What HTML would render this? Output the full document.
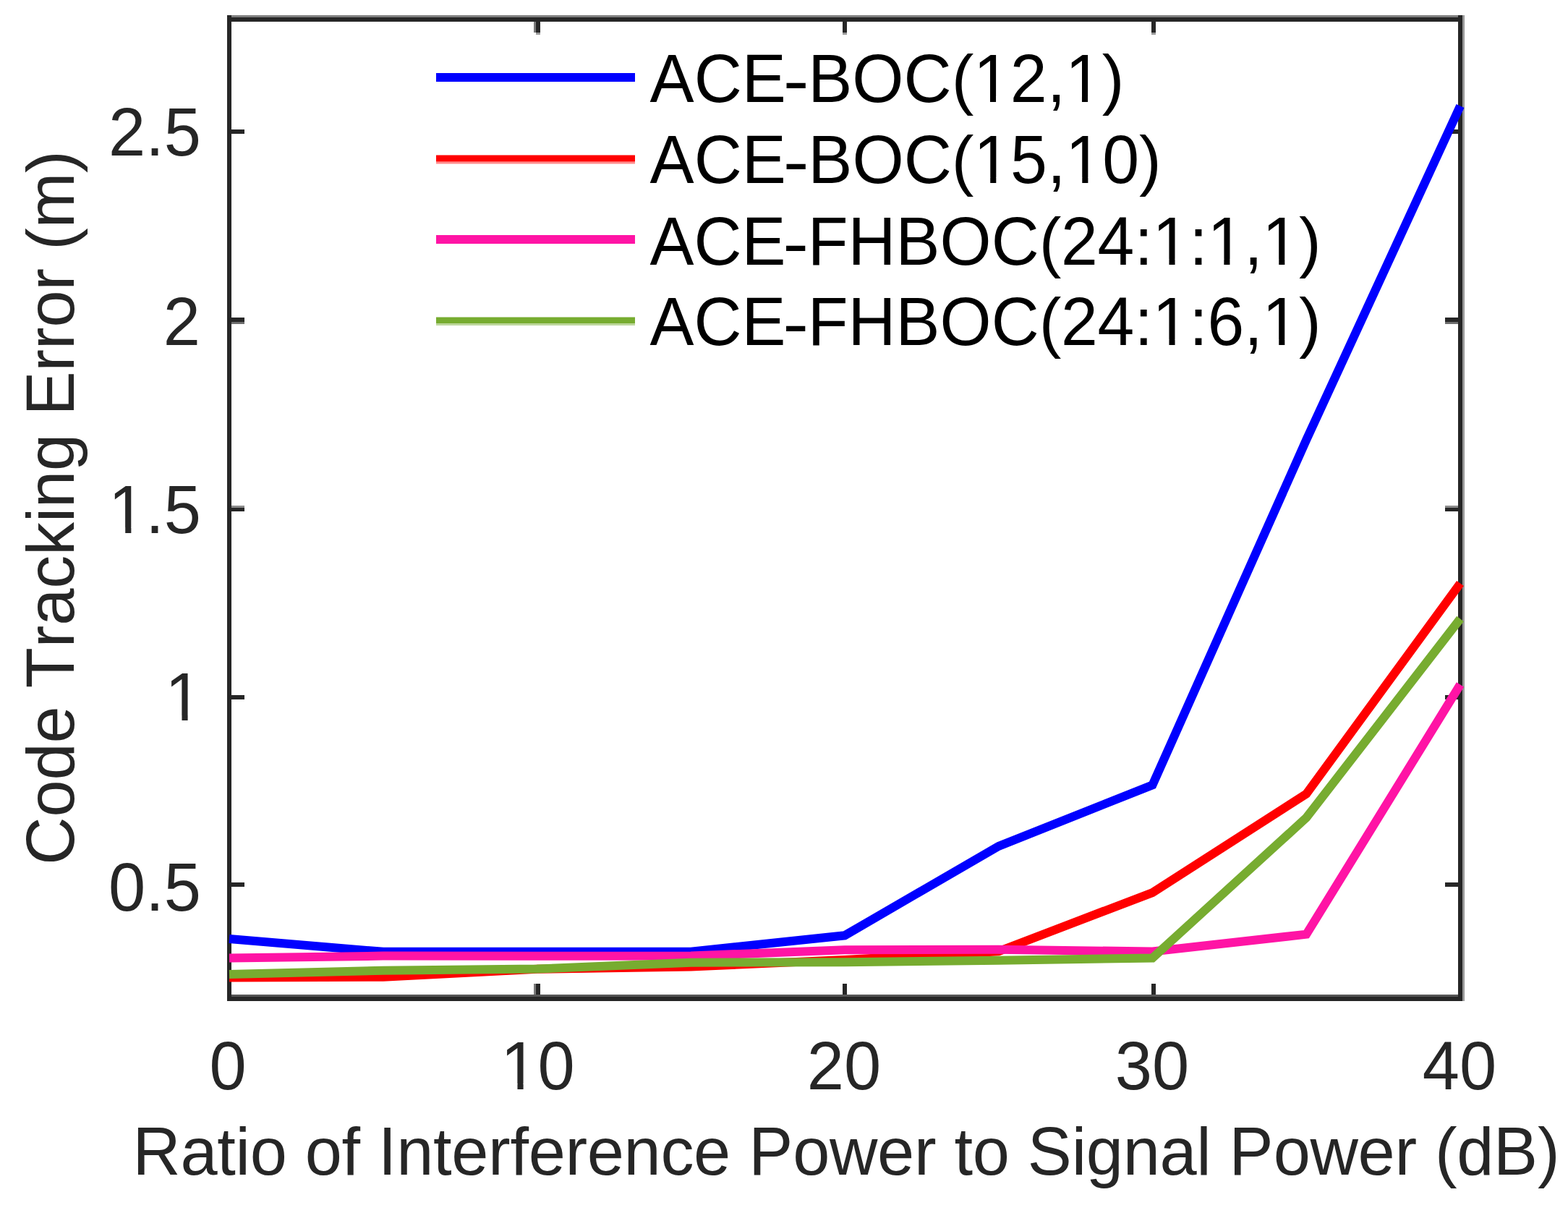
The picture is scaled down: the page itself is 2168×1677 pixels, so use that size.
<!DOCTYPE html>
<html lang="en">
<head>
<meta charset="utf-8">
<title>Code Tracking Error vs Ratio of Interference Power to Signal Power</title>
<style>
html,body{margin:0;padding:0;background:#fff;}
body{width:2168px;height:1677px;}
svg{display:block;}
text{font-family:"Liberation Sans",sans-serif;font-size:92px;font-kerning:none;white-space:pre;}
tspan.c{font-size:95px;}
.t{fill:#262626;}
.l{fill:#000;}
.d{fill:none;stroke-width:12;stroke-linejoin:miter;stroke-linecap:butt;}
</style>
</head>
<body>
<svg width="2168" height="1677" viewBox="0 0 2168 1677">
<rect x="0" y="0" width="2168" height="1677" fill="#ffffff"/>
<defs><clipPath id="nofoot"><path clip-rule="evenodd" d="M0 0H2168V1677H0ZM1350.89 132.99H1368.97V142.50H1350.89ZM1377.05 132.99H1394.43V142.50H1377.05ZM1477.87 132.99H1495.95V142.50H1477.87ZM1504.04 132.99H1521.41V142.50H1504.04ZM1351.13 245.49H1369.22V255.00H1351.13ZM1377.31 245.49H1394.69V255.00H1377.31ZM1478.20 245.49H1496.29V255.00H1478.20ZM1504.38 245.49H1521.76V255.00H1504.38ZM1598.43 358.49H1616.47V368.00H1598.43ZM1624.54 358.49H1641.87V368.00H1624.54ZM1674.32 358.49H1692.37V368.00H1674.32ZM1700.43 358.49H1717.77V368.00H1700.43ZM1750.22 358.49H1768.26V368.00H1750.22ZM1776.33 358.49H1793.66V368.00H1776.33ZM1598.43 469.49H1616.47V479.00H1598.43ZM1624.54 469.49H1641.87V479.00H1624.54ZM1750.22 469.49H1768.26V479.00H1750.22ZM1776.33 469.49H1793.66V479.00H1776.33ZM155.05 729.49H173.24V739.00H155.05ZM181.37 729.49H198.85V739.00H181.37ZM233.28 988.89H251.47V998.40H233.28ZM259.60 988.89H277.07V998.40H259.60ZM697.28 1497.99H715.47V1507.50H697.28ZM723.60 1497.99H741.07V1507.50H723.60Z"/></clipPath></defs>
<g id="ticks" shape-rendering="crispEdges">
<rect x="320" y="179" width="18" height="6" fill="#262626"/>
<rect x="1998" y="179" width="18" height="6" fill="#262626"/>
<rect x="320" y="445" width="18" height="2.5" fill="#6e6e6e"/>
<rect x="1998" y="445" width="18" height="2.5" fill="#6e6e6e"/>
<rect x="320" y="438.5" width="18" height="6.5" fill="#262626"/>
<rect x="1998" y="438.5" width="18" height="6.5" fill="#262626"/>
<rect x="320" y="698.5" width="18" height="3.0" fill="#8c8c8c"/>
<rect x="1998" y="698.5" width="18" height="3.0" fill="#8c8c8c"/>
<rect x="320" y="701.5" width="18" height="5.5" fill="#262626"/>
<rect x="1998" y="701.5" width="18" height="5.5" fill="#262626"/>
<rect x="320" y="961" width="18" height="5.5" fill="#262626"/>
<rect x="1998" y="961" width="18" height="5.5" fill="#262626"/>
<rect x="320" y="1220" width="18" height="6" fill="#262626"/>
<rect x="1998" y="1220" width="18" height="6" fill="#262626"/>
<rect x="738" y="1360" width="3" height="18" fill="#7a7a7a"/>
<rect x="738" y="30" width="3" height="15" fill="#7a7a7a"/>
<rect x="741" y="1360" width="6" height="18" fill="#262626"/>
<rect x="741" y="30" width="6" height="15" fill="#262626"/>
<rect x="741" y="45" width="6" height="3" fill="#9a9a9a"/>
<rect x="1165" y="1360" width="6" height="18" fill="#262626"/>
<rect x="1165" y="30" width="6" height="15" fill="#262626"/>
<rect x="1165" y="45" width="6" height="3" fill="#9a9a9a"/>
<rect x="1591.5" y="1360" width="6.0" height="18" fill="#262626"/>
<rect x="1591.5" y="30" width="6.0" height="15" fill="#262626"/>
<rect x="1591.5" y="45" width="6.0" height="3" fill="#9a9a9a"/>
</g>
<g id="axes" shape-rendering="crispEdges">
<rect x="314" y="21" width="1711" height="3" fill="#808080"/>
<rect x="2022" y="21" width="3" height="1363" fill="#999999"/>
<rect x="320" y="1375" width="1696" height="3" fill="#555555"/>
<rect x="314" y="24" width="1708" height="6" fill="#262626"/>
<rect x="314" y="1378" width="1708" height="6" fill="#262626"/>
<rect x="314" y="21" width="6" height="1363" fill="#262626"/>
<rect x="2016" y="21" width="6" height="1363" fill="#262626"/>
</g>
<g id="series">
<polyline class="d" stroke="#0000ff" points="317.00,1298.00 529.75,1315.80 742.50,1315.70 955.25,1315.70 1168.00,1293.30 1380.75,1169.80 1593.50,1085.30 1806.25,608.00 2019.00,146.50"/>
<polyline class="d" stroke="#ff0000" points="317.00,1351.50 529.75,1350.70 742.50,1339.80 955.25,1336.40 1168.00,1327.00 1380.75,1315.30 1593.50,1234.00 1806.25,1097.50 2019.00,806.50"/>
<polyline class="d" stroke="#ff14a5" points="317.00,1324.60 529.75,1321.60 742.50,1321.70 955.25,1321.50 1168.00,1313.20 1380.75,1312.80 1593.50,1315.50 1806.25,1291.70 2019.00,946.50"/>
<polyline class="d" stroke="#77ac30" points="317.00,1347.00 529.75,1341.80 742.50,1339.60 955.25,1330.70 1168.00,1330.30 1380.75,1327.70 1593.50,1324.50 1806.25,1130.50 2019.00,855.50"/>
</g>
<g id="legend">
<rect x="603" y="101" width="275" height="12" fill="#0000ff"/>
<rect x="603" y="223.5" width="275" height="3.0" fill="#ff8c8c"/>
<rect x="603" y="214.5" width="275" height="9.0" fill="#ff0000"/>
<rect x="603" y="325" width="275" height="12" fill="#ff14a5"/>
<rect x="603" y="447" width="275" height="3" fill="#bdd79c"/>
<rect x="603" y="438.5" width="275" height="8.5" fill="#77ac30"/>
</g>
<g id="labels" clip-path="url(#nofoot)">
<text class="l" y="140.5"><tspan class="c" x="898.60" textLength="188.26" lengthAdjust="spacingAndGlyphs">ACE</tspan><tspan x="1082.66" dy="2" textLength="35.84" lengthAdjust="spacingAndGlyphs">-</tspan><tspan class="c" x="1117.19" dy="-2" textLength="198.45" lengthAdjust="spacingAndGlyphs">BOC</tspan><tspan x="1315.64" style="letter-spacing:-0.304px">(</tspan><tspan class="c" x="1345.97" textLength="101.72" lengthAdjust="spacingAndGlyphs">12</tspan><tspan x="1447.70" style="letter-spacing:-0.304px">,</tspan><tspan class="c" x="1472.96" textLength="50.86" lengthAdjust="spacingAndGlyphs">1</tspan><tspan x="1523.82" style="letter-spacing:-0.304px">)</tspan></text>
<text class="l" y="253"><tspan class="c" x="898.60" textLength="188.34" lengthAdjust="spacingAndGlyphs">ACE</tspan><tspan x="1082.74" dy="2" textLength="35.84" lengthAdjust="spacingAndGlyphs">-</tspan><tspan class="c" x="1117.31" dy="-2" textLength="198.54" lengthAdjust="spacingAndGlyphs">BOC</tspan><tspan x="1315.85" style="letter-spacing:-0.274px">(</tspan><tspan class="c" x="1346.21" textLength="101.78" lengthAdjust="spacingAndGlyphs">15</tspan><tspan x="1448.00" style="letter-spacing:-0.274px">,</tspan><tspan class="c" x="1473.28" textLength="101.78" lengthAdjust="spacingAndGlyphs">10</tspan><tspan x="1575.07" style="letter-spacing:-0.274px">)</tspan></text>
<text class="l" y="366"><tspan class="c" x="898.60" textLength="187.92" lengthAdjust="spacingAndGlyphs">ACE</tspan><tspan x="1082.32" dy="2" textLength="35.84" lengthAdjust="spacingAndGlyphs">-</tspan><tspan class="c" x="1116.74" dy="-2" textLength="319.92" lengthAdjust="spacingAndGlyphs">FHBOC</tspan><tspan x="1436.66" style="letter-spacing:-0.416px">(</tspan><tspan class="c" x="1466.88" textLength="101.50" lengthAdjust="spacingAndGlyphs">24</tspan><tspan x="1568.38" style="letter-spacing:-0.416px">:</tspan><tspan class="c" x="1593.53" textLength="50.75" lengthAdjust="spacingAndGlyphs">1</tspan><tspan x="1644.28" style="letter-spacing:-0.416px">:</tspan><tspan class="c" x="1669.42" textLength="50.75" lengthAdjust="spacingAndGlyphs">1</tspan><tspan x="1720.17" style="letter-spacing:-0.416px">,</tspan><tspan class="c" x="1745.32" textLength="50.75" lengthAdjust="spacingAndGlyphs">1</tspan><tspan x="1796.07" style="letter-spacing:-0.416px">)</tspan></text>
<text class="l" y="477"><tspan class="c" x="898.60" textLength="187.92" lengthAdjust="spacingAndGlyphs">ACE</tspan><tspan x="1082.32" dy="2" textLength="35.84" lengthAdjust="spacingAndGlyphs">-</tspan><tspan class="c" x="1116.74" dy="-2" textLength="319.92" lengthAdjust="spacingAndGlyphs">FHBOC</tspan><tspan x="1436.66" style="letter-spacing:-0.416px">(</tspan><tspan class="c" x="1466.88" textLength="101.50" lengthAdjust="spacingAndGlyphs">24</tspan><tspan x="1568.38" style="letter-spacing:-0.416px">:</tspan><tspan class="c" x="1593.53" textLength="50.75" lengthAdjust="spacingAndGlyphs">1</tspan><tspan x="1644.28" style="letter-spacing:-0.416px">:</tspan><tspan class="c" x="1669.42" textLength="50.75" lengthAdjust="spacingAndGlyphs">6</tspan><tspan x="1720.17" style="letter-spacing:-0.416px">,</tspan><tspan class="c" x="1745.32" textLength="50.75" lengthAdjust="spacingAndGlyphs">1</tspan><tspan x="1796.07" style="letter-spacing:-0.416px">)</tspan></text>
<text class="t" y="215"><tspan class="c" x="150.11" textLength="51.17" lengthAdjust="spacingAndGlyphs">2</tspan><tspan x="201.27">.</tspan><tspan class="c" x="226.83" textLength="51.17" lengthAdjust="spacingAndGlyphs">5</tspan></text>
<text class="t" y="477"><tspan class="c" x="225.83" textLength="51.17" lengthAdjust="spacingAndGlyphs">2</tspan></text>
<text class="t" y="737"><tspan class="c" x="150.11" textLength="51.17" lengthAdjust="spacingAndGlyphs">1</tspan><tspan x="201.27">.</tspan><tspan class="c" x="226.83" textLength="51.17" lengthAdjust="spacingAndGlyphs">5</tspan></text>
<text class="t" y="996.4"><tspan class="c" x="228.33" textLength="51.17" lengthAdjust="spacingAndGlyphs">1</tspan></text>
<text class="t" y="1258.5"><tspan class="c" x="150.11" textLength="51.17" lengthAdjust="spacingAndGlyphs">0</tspan><tspan x="201.27">.</tspan><tspan class="c" x="226.83" textLength="51.17" lengthAdjust="spacingAndGlyphs">5</tspan></text>
<text class="t" y="1505.5"><tspan class="c" x="289.42" textLength="51.17" lengthAdjust="spacingAndGlyphs">0</tspan></text>
<text class="t" y="1505.5"><tspan class="c" x="692.33" textLength="102.33" lengthAdjust="spacingAndGlyphs">10</tspan></text>
<text class="t" y="1505.5"><tspan class="c" x="1115.83" textLength="102.33" lengthAdjust="spacingAndGlyphs">20</tspan></text>
<text class="t" y="1505.5"><tspan class="c" x="1541.83" textLength="102.33" lengthAdjust="spacingAndGlyphs">30</tspan></text>
<text class="t" y="1505.5"><tspan class="c" x="1966.83" textLength="102.33" lengthAdjust="spacingAndGlyphs">40</tspan></text>
<text class="t" y="1623.75"><tspan class="c" x="183.45" textLength="66.10" lengthAdjust="spacingAndGlyphs">R</tspan><tspan x="249.55" style="letter-spacing:-0.339px">atio of </tspan><tspan class="c" x="523.02" textLength="25.22" lengthAdjust="spacingAndGlyphs">I</tspan><tspan x="548.24" style="letter-spacing:-0.339px">nterference </tspan><tspan class="c" x="1035.13" textLength="61.02" lengthAdjust="spacingAndGlyphs">P</tspan><tspan x="1096.15" style="letter-spacing:-0.339px">ower to </tspan><tspan class="c" x="1420.69" textLength="61.02" lengthAdjust="spacingAndGlyphs">S</tspan><tspan x="1481.72" style="letter-spacing:-0.339px">ignal </tspan><tspan class="c" x="1699.62" textLength="61.02" lengthAdjust="spacingAndGlyphs">P</tspan><tspan x="1760.65" style="letter-spacing:-0.339px">ower (d</tspan><tspan class="c" x="2065.04" textLength="61.02" lengthAdjust="spacingAndGlyphs">B</tspan><tspan x="2126.07" style="letter-spacing:-0.339px">)</tspan></text>
</g>
<text class="t" y="0" transform="translate(102.4,1191.0) rotate(-90)"><tspan class="c" x="-4.67" textLength="66.24" lengthAdjust="spacingAndGlyphs">C</tspan><tspan x="61.57" style="letter-spacing:-0.198px">ode </tspan><tspan class="c" x="239.83" textLength="56.00" lengthAdjust="spacingAndGlyphs">T</tspan><tspan x="295.83" style="letter-spacing:-0.198px">racking </tspan><tspan class="c" x="616.38" textLength="61.16" lengthAdjust="spacingAndGlyphs">E</tspan><tspan x="677.55" style="letter-spacing:-0.198px">rror (m)</tspan></text>
</svg>
</body>
</html>
